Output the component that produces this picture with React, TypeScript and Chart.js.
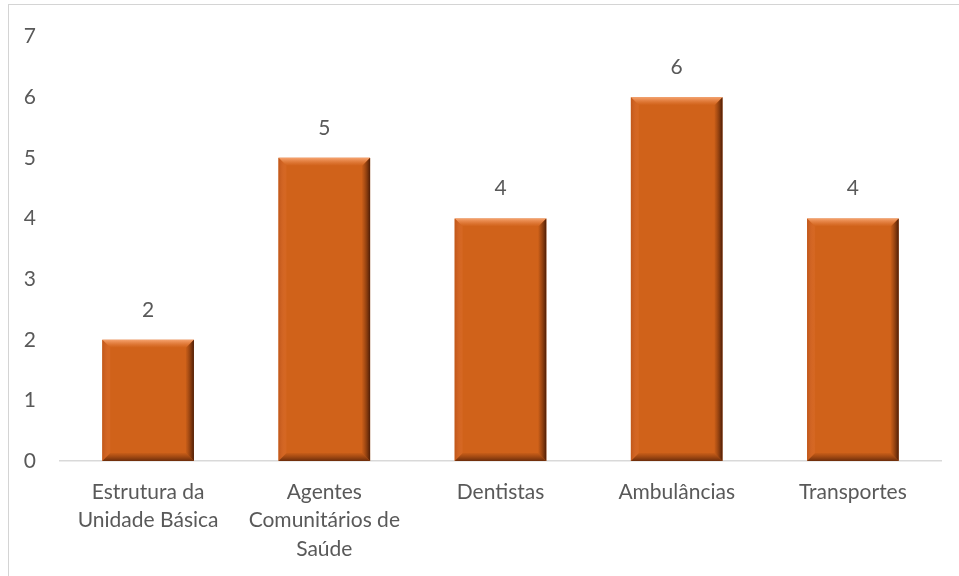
import React, { useEffect, useRef } from "react";
import { Chart, registerables } from "chart.js";

Chart.register(...registerables);

const categories: (string | string[])[] = [
  ["Estrutura da", "Unidade Básica"],
  ["Agentes", "Comunitários de", "Saúde"],
  "Dentistas",
  "Ambulâncias",
  "Transportes",
];
const values: number[] = [2, 5, 4, 6, 4];
const yTicks: number[] = [0, 1, 2, 3, 4, 5, 6, 7];

const BAR = "#D0621A";
const TEXT = "#595959";
const FONT = "Lato, 'Open Sans', sans-serif";

const bevelPlugin = {
  id: "bevel",
  afterDatasetsDraw(chart: any) {
    const ctx = chart.ctx;
    const meta = chart.getDatasetMeta(0);
    meta.data.forEach((el: any) => {
      const p = el.getProps(["x", "y", "base", "width"], true);
      const l = p.x - p.width / 2;
      const r = p.x + p.width / 2;
      const t = p.y;
      const b = p.base;
      const e = 8;
      ctx.save();
      let g = ctx.createLinearGradient(0, t, 0, t + e);
      g.addColorStop(0, "rgba(250,170,120,0.9)");
      g.addColorStop(1, "rgba(240,140,80,0.0)");
      ctx.fillStyle = g;
      ctx.beginPath();
      ctx.moveTo(l, t); ctx.lineTo(r, t); ctx.lineTo(r - e, t + e); ctx.lineTo(l + e, t + e); ctx.closePath();
      ctx.fill();
      g = ctx.createLinearGradient(l, 0, l + e, 0);
      g.addColorStop(0, "rgba(190,85,25,0.9)");
      g.addColorStop(1, "rgba(230,120,60,0.2)");
      ctx.fillStyle = g;
      ctx.beginPath();
      ctx.moveTo(l, t); ctx.lineTo(l + e, t + e); ctx.lineTo(l + e, b - e); ctx.lineTo(l, b); ctx.closePath();
      ctx.fill();
      g = ctx.createLinearGradient(r - e, 0, r, 0);
      g.addColorStop(0, "rgba(120,50,10,0.1)");
      g.addColorStop(1, "rgba(70,25,5,0.95)");
      ctx.fillStyle = g;
      ctx.beginPath();
      ctx.moveTo(r, t); ctx.lineTo(r, b); ctx.lineTo(r - e, b - e); ctx.lineTo(r - e, t + e); ctx.closePath();
      ctx.fill();
      g = ctx.createLinearGradient(0, b - e, 0, b);
      g.addColorStop(0, "rgba(120,50,10,0.1)");
      g.addColorStop(1, "rgba(90,35,8,0.85)");
      ctx.fillStyle = g;
      ctx.beginPath();
      ctx.moveTo(l, b); ctx.lineTo(r, b); ctx.lineTo(r - e, b - e); ctx.lineTo(l + e, b - e); ctx.closePath();
      ctx.fill();
      ctx.restore();
    });
  },
};

const labelPlugin = {
  id: "valueLabels",
  afterDatasetsDraw(chart: any) {
    const ctx = chart.ctx;
    const meta = chart.getDatasetMeta(0);
    ctx.save();
    ctx.fillStyle = TEXT;
    ctx.font = `21px ${FONT}`;
    ctx.textAlign = "center";
    ctx.textBaseline = "middle";
    meta.data.forEach((el: any, i: number) => {
      ctx.fillText(String(values[i]), el.x, el.y - 30);
    });
    ctx.restore();
  },
};

export default function App() {
  const ref = useRef<HTMLCanvasElement>(null);
  useEffect(() => {
    const chart = new Chart(ref.current!, {
      type: "bar",
      data: {
        labels: categories,
        datasets: [
          {
            data: values,
            backgroundColor: BAR,
            barPercentage: 0.52,
            categoryPercentage: 1,
          },
        ],
      },
      options: {
        animation: false,
        responsive: false,
        maintainAspectRatio: false,
        layout: { padding: { left: 22, right: 18, top: 33, bottom: 0 } },
        plugins: { legend: { display: false }, tooltip: { enabled: false } },
        scales: {
          x: {
            grid: { display: false, drawTicks: false },
            border: { display: true, color: "#D9D9D9", width: 1.5 },
            ticks: {
              color: TEXT,
              font: { family: FONT, size: 21, lineHeight: 1.35 },
              padding: 17,
              maxRotation: 0,
              autoSkip: false,
            },
            afterFit: (s: any) => { s.height = 115; },
          },
          y: {
            min: 0,
            max: 7,
            afterBuildTicks: (s: any) => { s.ticks = yTicks.map((v) => ({ value: v })); },
            grid: { display: false, drawTicks: false },
            border: { display: false },
            ticks: { color: TEXT, font: { family: FONT, size: 21 }, padding: 24 },
            afterFit: (s: any) => { s.width = 38; },
          },
        },
      },
      plugins: [bevelPlugin, labelPlugin],
    });
    return () => chart.destroy();
  }, []);
  return (
    <div style={{ position: "absolute", left: 0, top: 0, width: 959, height: 576, background: "#fff", overflow: "hidden" }}>
      <div style={{ position: "absolute", left: 8, top: 4, width: 1000, height: 600, borderLeft: "1.5px solid #D4D4D4", borderTop: "1.5px solid #D4D4D4" }} />
      <canvas ref={ref} width={959} height={576} style={{ position: "absolute", left: 0, top: 0 }} />
    </div>
  );
}
